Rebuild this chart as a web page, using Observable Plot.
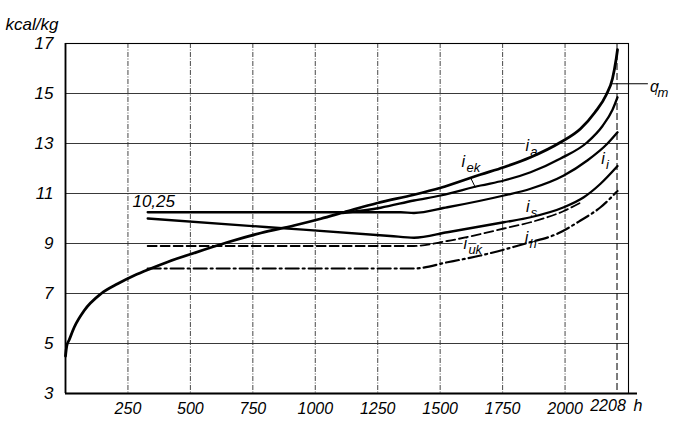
<!DOCTYPE html>
<html><head><meta charset="utf-8">
<script src="https://cdn.jsdelivr.net/npm/d3@7"></script>
<script src="https://cdn.jsdelivr.net/npm/@observablehq/plot@0.6"></script>
<style>
html,body{margin:0;padding:0;background:#fff;}
#chart{width:676px;height:427px;overflow:hidden;}
svg{overflow:visible;}
</style></head><body><div id="chart"></div>
<script>
// tick values
const xTicks = [250, 500, 750, 1000, 1250, 1500, 1750, 2000];
const xEndTick = [2208];
const yTicks = [3, 5, 7, 9, 11, 13, 15, 17];
const yGrid = [5, 7, 9, 11, 13, 15];

// curves [h, kcal/kg]
const curveQm = [[0,4.5],[5,4.9],[15,5.15],[35,5.65],[75,6.32],[142,6.99],[209,7.39],[275,7.72],[342,8.0],[409,8.26],[515,8.62],[649,9.05],[782,9.42],[915,9.72],[1022,9.99],[1115,10.25],[1249,10.62],[1395,10.95],[1502,11.23],[1662,11.76],[1755,12.05],[1862,12.45],[1982,13.05],[2062,13.59],[2120,14.25],[2165,14.95],[2190,15.6],[2205,16.4],[2210,16.75]];
const curveEk = [[1110,10.22],[1262,10.43],[1395,10.72],[1502,10.92],[1662,11.32],[1755,11.52],[1862,11.85],[1982,12.4],[2089,13.05],[2150,13.7],[2190,14.35],[2210,14.85]];
const curveI  = [[329,10.25],[900,10.25],[1342,10.25],[1395,10.22],[1529,10.45],[1755,10.92],[1862,11.19],[1995,11.72],[2089,12.32],[2169,12.99],[2210,13.45]];
const curveS  = [[329,10.0],[800,9.66],[1300,9.3],[1395,9.23],[1529,9.45],[1755,9.85],[1862,10.05],[1995,10.45],[2075,10.85],[2142,11.39],[2210,12.1]];
const curveUk = [[329,8.9],[1395,8.9],[1529,9.1],[1662,9.38],[1755,9.6],[1862,9.85],[1995,10.3],[2060,10.62]];
const curveH  = [[329,8.0],[1395,8.0],[1529,8.25],[1662,8.52],[1849,9.02],[1969,9.39],[2062,9.92],[2142,10.45],[2210,11.1]];

// annotations
const curveLabels = [
  {main:"i", sub:"a",  x:1849, y:12.92},
  {main:"i", sub:"ek", x:1593, y:12.25},
  {main:"i", sub:"i",  x:2152, y:12.39},
  {main:"i", sub:"s",  x:1851, y:10.45},
  {main:"i", sub:"uk", x:1601, y:8.99},
  {main:"i", sub:"h",  x:1846, y:9.23},
  {main:"q", sub:"m",  x:2358, y:15.28}
];
const qmLeader = [[2183,15.39],[2330,15.39]];
const ekLeader = [[1622,11.63],[1640,11.26]];
const startLabel = [{text:"10,25", x:268, y:10.25}];
const unitLabel = ["kcal/kg"];
const xUnit = ["h"];

const X = d => d[0], Y = d => d[1];
const solid = {x:X, y:Y, stroke:"#000", curve:"monotone-x", strokeLinecap:"round"};

const plot = Plot.plot({
  width: 676, height: 427,
  marginLeft: 65, marginRight: 48, marginTop: 43, marginBottom: 34,
  x: {domain: [0, 2254]},
  y: {domain: [3, 17]},
  style: {fontFamily: "'Liberation Sans', Arial, sans-serif", fontStyle: "italic", background: "#fff", color: "#000", overflow: "visible"},
  marks: [
    Plot.ruleY(yGrid, {stroke:"#222", strokeWidth:0.9}),
    Plot.ruleX(xTicks, {stroke:"#333", strokeWidth:0.9, strokeDasharray:"5,1.5,1,1.5"}),
    Plot.ruleX(xEndTick, {stroke:"#111", strokeWidth:1.1, strokeDasharray:"7,3"}),
    Plot.frame({stroke:"#000", strokeWidth:1.1}),
    Plot.ruleX([0], {stroke:"#000", strokeWidth:1.8}),
    Plot.ruleY([3], {x1:0, x2:2290, stroke:"#000", strokeWidth:1.8}),
    // labels with white halo (interrupt gridlines)
    Plot.text(curveLabels, {x:"x", y:"y", text:"main", fontSize:16, textAnchor:"middle", fill:"#000", stroke:"#fff", strokeWidth:4}),
    Plot.text(curveLabels, {x:"x", y:"y", text:"sub", fontSize:13, textAnchor:"start", dx:3, dy:6, fill:"#000", stroke:"#fff", strokeWidth:4}),
    Plot.text(startLabel, {x:"x", y:"y", text:"text", fontSize:17, textAnchor:"start", dy:-11, fill:"#000"}),
    // curves
    Plot.line(qmLeader, {x:X, y:Y, stroke:"#000", strokeWidth:1}),
    Plot.line(ekLeader, {x:X, y:Y, stroke:"#000", strokeWidth:1}),
    Plot.line(curveH, {...solid, strokeWidth:2.2, strokeDasharray:"13,4,2,4"}),
    Plot.line(curveUk, {...solid, strokeWidth:1.8, strokeDasharray:"9,4"}),
    Plot.line(curveS, {...solid, strokeWidth:2.3}),
    Plot.line(curveI, {...solid, strokeWidth:2.3}),
    Plot.line(curveEk, {...solid, strokeWidth:2.3}),
    Plot.line(curveQm, {...solid, strokeWidth:2.8}),
    // axes
    Plot.axisY({ticks:yTicks, tickSize:0, tickPadding:12, fontSize:17, label:null, tickFormat:d=>String(d)}),
    Plot.axisX({ticks:xTicks, tickSize:0, tickPadding:9, fontSize:16, label:null, tickFormat:d=>String(d)}),
    Plot.text(xEndTick, {x:d=>d, frameAnchor:"bottom", dy:17, dx:-9, fontSize:16, text:d=>String(d)}),
    Plot.text(xUnit, {frameAnchor:"bottom-right", dx:14, dy:17, fontSize:16, text:d=>d}),
    Plot.text(unitLabel, {frameAnchor:"top-left", dx:-60, dy:-26, textAnchor:"start", fontSize:17, text:d=>d})
  ]
});
document.getElementById("chart").append(plot);
</script>
</body></html>
